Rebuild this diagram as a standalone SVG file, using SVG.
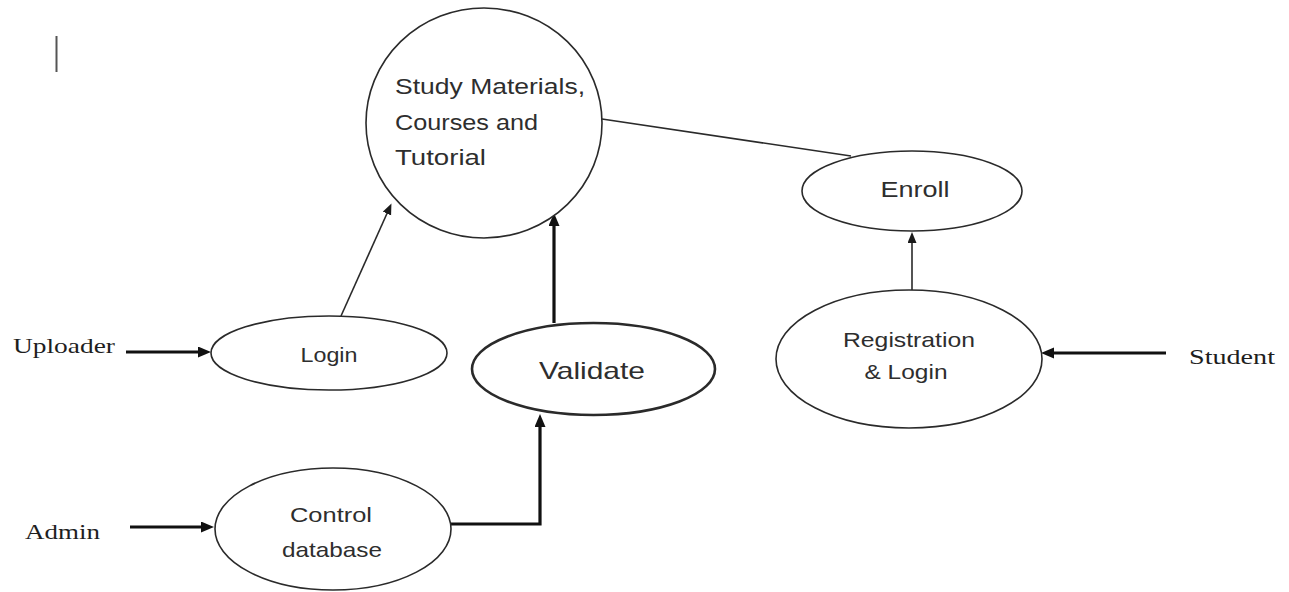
<svg xmlns="http://www.w3.org/2000/svg" width="1289" height="592" viewBox="0 0 1289 592">
  <style>
    .node { fill: #ffffff; stroke: #2a2a2a; stroke-width: 1.6; }
    .bold { stroke-width: 2.6; }
    .lbl { font-family: "Liberation Sans", "Open Sans", Arial, sans-serif; fill: #2e2e2e; }
    .actor { font-family: "Liberation Serif", "Times New Roman", serif; fill: #1e1e1e; font-size: 22px; }
    .thin { fill: none; stroke: #2a2a2a; stroke-width: 1.6; }
    .thick { fill: none; stroke: #111111; stroke-width: 3.2; }
  </style>
  <defs>
    <marker id="arrThick" markerUnits="userSpaceOnUse" markerWidth="14" markerHeight="12" refX="6" refY="5.5" orient="auto">
      <path d="M0,0 L13,5.5 L0,11 z" fill="#111111"/>
    </marker>
    <marker id="arrThin" markerUnits="userSpaceOnUse" markerWidth="12" markerHeight="10" refX="5" refY="4.5" orient="auto">
      <path d="M0,0 L11,4.5 L0,9 z" fill="#1a1a1a"/>
    </marker>
  </defs>
  <rect width="1289" height="592" fill="#ffffff"/>

  <line x1="56.5" y1="36" x2="56.5" y2="72" stroke="#555555" stroke-width="2"/>

  <g id="connectors">
    <line class="thin" x1="602" y1="119" x2="851" y2="156"/>
    <line class="thin" x1="341" y1="316" x2="389" y2="209" marker-end="url(#arrThin)"/>
    <line class="thick" x1="554" y1="323" x2="554" y2="220" marker-end="url(#arrThick)"/>
    <line class="thin" x1="912" y1="290" x2="912" y2="238" marker-end="url(#arrThin)"/>
    <line class="thick" x1="126" y1="352" x2="204" y2="352" marker-end="url(#arrThick)"/>
    <line class="thick" x1="1166" y1="353" x2="1048" y2="353" marker-end="url(#arrThick)"/>
    <line class="thick" x1="130" y1="527" x2="207" y2="527" marker-end="url(#arrThick)"/>
    <path class="thick" d="M451,524 L540,524 L540,421" marker-end="url(#arrThick)"/>
  </g>

  <g id="node-study">
    <ellipse class="node" cx="484" cy="123" rx="118" ry="115"/>
    <text class="lbl" font-size="22" x="395" y="94" textLength="190" lengthAdjust="spacingAndGlyphs">Study Materials,</text>
    <text class="lbl" font-size="22" x="395" y="130" textLength="143" lengthAdjust="spacingAndGlyphs">Courses and</text>
    <text class="lbl" font-size="22" x="395" y="165" textLength="91" lengthAdjust="spacingAndGlyphs">Tutorial</text>
  </g>

  <g id="node-enroll">
    <ellipse class="node" cx="912" cy="191" rx="110" ry="40"/>
    <text class="lbl" font-size="22" x="915" y="197" text-anchor="middle" textLength="69" lengthAdjust="spacingAndGlyphs">Enroll</text>
  </g>

  <g id="node-registration">
    <ellipse class="node" cx="909" cy="359" rx="133" ry="69"/>
    <text class="lbl" font-size="21" x="909" y="347" text-anchor="middle" textLength="132" lengthAdjust="spacingAndGlyphs">Registration</text>
    <text class="lbl" font-size="21" x="906" y="379" text-anchor="middle" textLength="83" lengthAdjust="spacingAndGlyphs">&amp; Login</text>
  </g>

  <g id="node-login">
    <ellipse class="node" cx="329" cy="353" rx="118" ry="37"/>
    <text class="lbl" font-size="21" x="329" y="362" text-anchor="middle" textLength="57" lengthAdjust="spacingAndGlyphs">Login</text>
  </g>

  <g id="node-validate">
    <ellipse class="node bold" cx="593.5" cy="369" rx="121.5" ry="46"/>
    <text class="lbl" font-size="24" x="592" y="379" text-anchor="middle" textLength="106" lengthAdjust="spacingAndGlyphs">Validate</text>
  </g>

  <g id="node-control">
    <ellipse class="node" cx="333" cy="529" rx="118" ry="61"/>
    <text class="lbl" font-size="21" x="331" y="522" text-anchor="middle" textLength="82" lengthAdjust="spacingAndGlyphs">Control</text>
    <text class="lbl" font-size="21" x="332" y="557" text-anchor="middle" textLength="100" lengthAdjust="spacingAndGlyphs">database</text>
  </g>

  <g id="actor-uploader">
    <text class="actor" x="13" y="353" textLength="102" lengthAdjust="spacingAndGlyphs">Uploader</text>
  </g>
  <g id="actor-student">
    <text class="actor" x="1189" y="364" textLength="86" lengthAdjust="spacingAndGlyphs">Student</text>
  </g>
  <g id="actor-admin">
    <text class="actor" x="25" y="539" textLength="75" lengthAdjust="spacingAndGlyphs">Admin</text>
  </g>
</svg>
